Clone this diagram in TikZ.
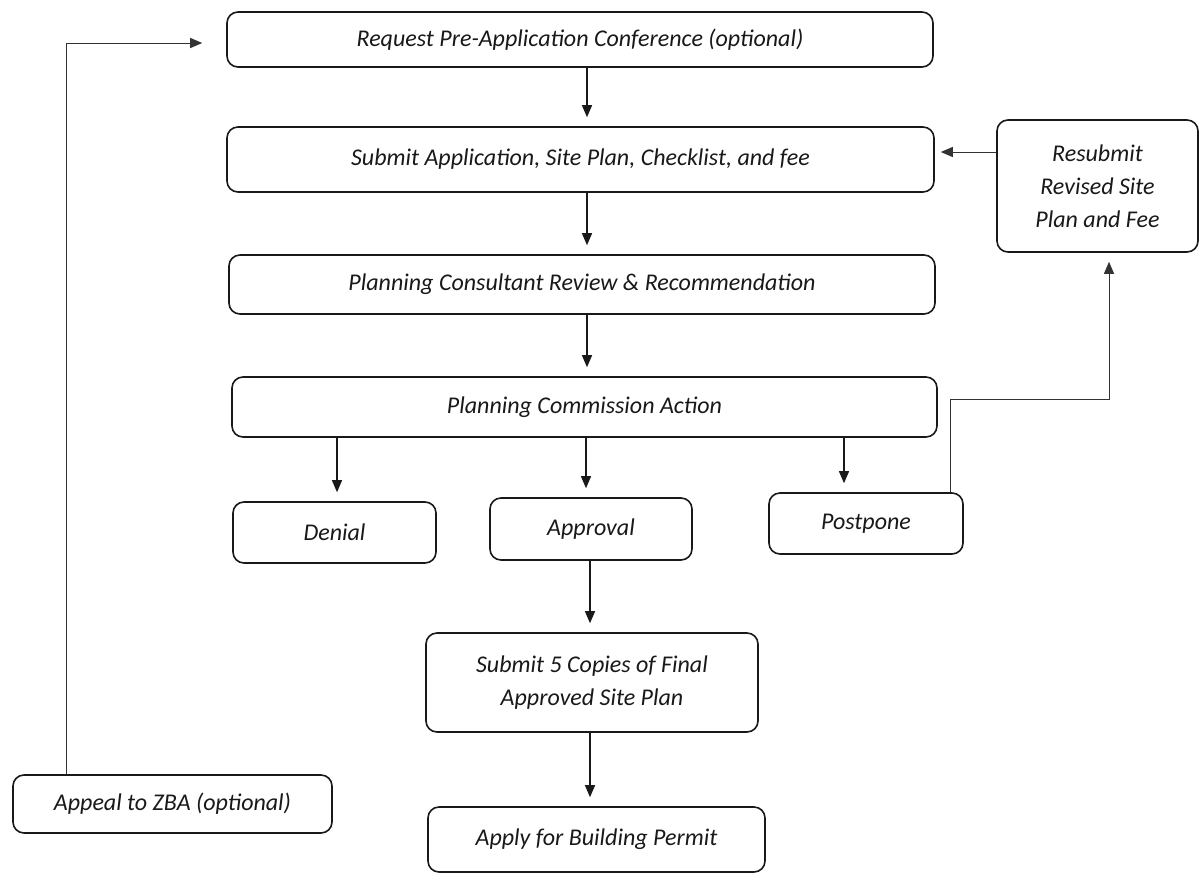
\documentclass[tikz,border=0pt]{standalone}
\usepackage{fontspec}
\setmainfont{Carlito}
\usetikzlibrary{arrows.meta}
\begin{document}
\begin{tikzpicture}[x=1pt,y=-1pt,
  box/.style={draw=black!90, line width=1.6pt, rounded corners=11pt, inner sep=2pt, align=center,
    font=\fontsize{24}{33}\selectfont\itshape, text=black!90},
  arr/.style={draw=black!90, line width=1.2pt, -{Triangle[length=12pt,width=10pt]}, shorten >=9pt},
  lnk/.style={draw=black!80, line width=1pt, -{Triangle[length=12pt,width=10pt]}}]
\useasboundingbox (0,0) rectangle (1202,876);
\fill[white] (0,0) rectangle (1202,876);

\node[box, minimum width=706pt, minimum height=55pt] (req) at (580,39.5) {Request Pre-Application Conference (optional)};
\node[box, minimum width=707pt, minimum height=65pt] (sub) at (580.5,159.5) {Submit Application, Site Plan, Checklist, and fee};
\node[box, minimum width=706pt, minimum height=59pt] (pcr) at (582,284.5) {Planning Consultant Review \& Recommendation};
\node[box, minimum width=705pt, minimum height=60pt] (pca) at (584.5,407) {Planning Commission Action};
\node[box, minimum width=203pt, minimum height=61pt] (den) at (334.5,532.5) {Denial};
\node[box, minimum width=202pt, minimum height=62pt] (app) at (591,529) {Approval};
\node[box, minimum width=194pt, minimum height=61pt] (pos) at (866,523.5) {Postpone};
\node[box, minimum width=201pt, minimum height=132pt] (res) at (1097.5,186) {Resubmit\\Revised Site\\Plan and Fee};
\node[box, minimum width=332pt, minimum height=99pt] (sfc) at (592,682.5) {Submit 5 Copies of Final\\Approved Site Plan};
\node[box, minimum width=319pt, minimum height=58pt] (zba) at (172.5,804) {Appeal to ZBA (optional)};
\node[box, minimum width=337pt, minimum height=65pt] (bld) at (596.5,839.5) {Apply for Building Permit};

\coordinate (cx) at (587,0);
\coordinate (dx) at (337,0);
\coordinate (ax) at (586,0);
\coordinate (px) at (844,0);
\coordinate (fx) at (590,0);
\coordinate (upx) at (950,0);
\coordinate (rx) at (1109,0);
\coordinate (zx) at (66,0);
\coordinate (py) at (0,399);
\coordinate (ry) at (0,152);
\coordinate (qy) at (0,43);

\draw[arr] (req.south -| cx) -- (sub.north -| cx);
\draw[arr] (sub.south -| cx) -- (pcr.north -| cx);
\draw[arr] (pcr.south -| cx) -- (pca.north -| cx);
\draw[arr] (pca.south -| dx) -- (den.north -| dx);
\draw[arr] (pca.south -| ax) -- (app.north -| ax);
\draw[arr] (pca.south -| px) -- (pos.north -| px);
\draw[arr] (app.south -| fx) -- (sfc.north -| fx);
\draw[arr] (sfc.south -| fx) -- (bld.north -| fx);

\draw[lnk, shorten >=6pt] (res.west |- ry) -- (sub.east |- ry);
\draw[lnk, shorten >=9pt] (pos.north -| upx) -- (upx |- py) -- (rx |- py) -- (res.south -| rx);
\draw[lnk, shorten >=24pt] (zba.north -| zx) -- (zx |- qy) -- (req.west |- qy);
\end{tikzpicture}
\end{document}
